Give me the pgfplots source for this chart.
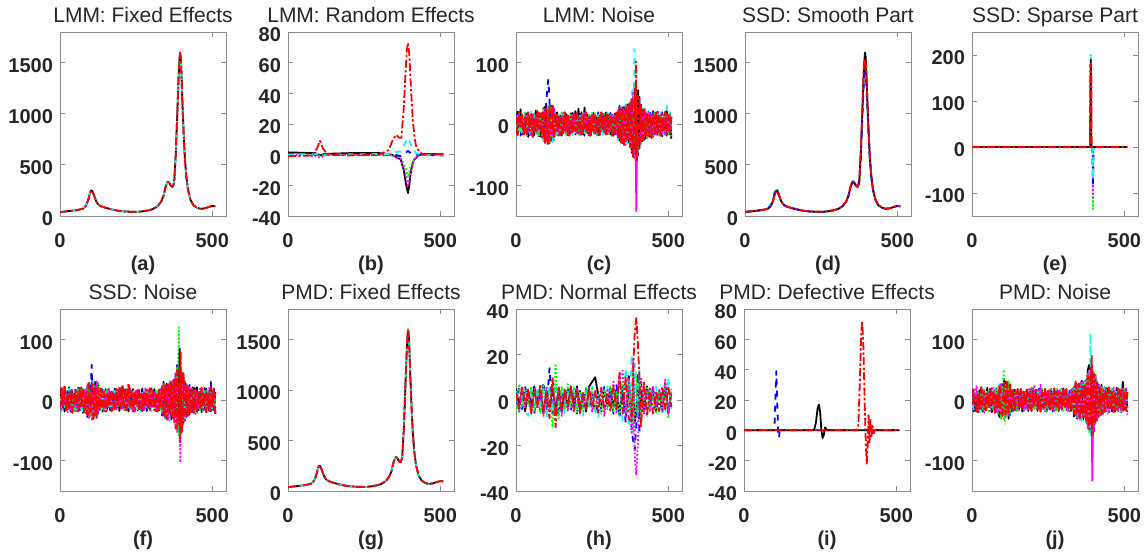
\documentclass[border=0pt]{standalone}
\usepackage{pgfplots}
\pgfplotsset{compat=1.18}
\usepackage{pgfplotstable}
\usepackage{fontspec}
\setmainfont{Liberation Sans}
\definecolor{txt}{HTML}{262626}
\definecolor{axc}{HTML}{8C8C8C}
\definecolor{mgreen}{rgb}{0,1,0}
\definecolor{mcyan}{rgb}{0,1,1}
\definecolor{mmag}{rgb}{1,0,1}

\pgfplotstableread{
x a r bl cy
0 38 40 42 40
20 45 46 44 45
40 52 52 53 52
60 60 61 60 62
75 72 73 72 74
85 100 98 102 105
92 150 145 155 165
98 220 215 225 250
102 250 245 255 280
106 245 240 250 270
112 200 198 205 210
118 150 150 152 155
125 115 116 115 118
135 95 96 94 95
150 80 80 81 80
170 65 66 64 65
190 52 53 52 52
210 45 46 45 45
230 42 44 42 42
250 40 42 41 40
270 45 46 45 45
290 55 56 55 55
305 68 70 68 68
320 95 97 95 95
332 140 142 140 140
340 200 205 200 205
347 290 300 290 300
353 335 340 330 345
358 330 335 325 335
364 295 300 295 300
370 285 280 290 285
375 330 320 340 330
380 600 620 580 600
385 1000 1050 950 1000
390 1400 1480 1300 1400
392 1520 1530 1380 1480
394 1600 1500 1400 1520
396 1560 1520 1380 1500
398 1450 1400 1300 1400
402 1100 1120 1050 1100
406 800 810 780 800
410 560 570 550 560
415 380 385 375 380
420 260 265 258 260
428 160 162 160 160
438 105 106 105 105
450 80 80 80 80
462 70 71 70 70
475 75 76 75 75
490 90 91 90 90
500 98 99 98 98
510 95 96 95 95
}\S

\pgfplotstableread{
x a b c d e f
0 12 -15 18 -8 6 -16
5 -18 20 -6 14 -19 9
10 20 -9 5 -18 13 15
15 -4 24 -19 10 -12 -6
20 15 -17 12 -20 17 11
25 -20 8 -15 16 -7 -18
30 9 -13 21 -5 19 10
35 -16 17 -9 -19 -14 16
40 19 -21 14 11 8 -13
45 -11 10 -18 -15 -17 7
50 16 -6 11 20 13 -20
55 -21 14 -13 -10 -8 17
60 10 -18 20 16 18 -9
65 -15 22 -7 -20 -13 13
70 21 -11 15 8 10 -16
75 -8 16 -21 -13 -19 19
80 17 -20 10 19 14 -10
85 -22 13 -14 -16 -21 20
90 26 -24 22 -28 24 -17
95 -30 28 -26 20 -32 25
100 24 -20 -26 -24 28 -28
105 -34 26 28 32 -25 21
110 28 -31 -24 -20 33 -30
115 -27 22 30 27 -29 24
120 32 -27 -23 -31 20 -20
125 -24 20 28 25 -26 27
130 18 -16 -14 -19 15 -12
135 -12 19 16 11 -18 15
140 15 -11 -19 17 10 -17
145 -18 14 10 -12 -15 11
150 11 -19 15 18 19 -14
155 -17 12 -11 -15 -8 18
160 19 -10 18 8 14 -10
165 -10 16 -17 -19 -17 14
170 14 -18 12 14 11 -18
175 -19 11 -8 -11 -19 8
180 12 -15 19 17 15 -15
185 -15 18 -14 -18 -10 17
190 17 -8 11 12 18 -11
195 -11 21 -18 -14 -12 12
200 18 -14 14 19 8 -17
205 -14 25 -10 -8 -17 10
210 10 -12 17 15 14 -19
215 -18 19 -15 -18 -11 15
220 15 -17 8 11 19 -8
225 -8 27 -19 -15 -14 18
230 19 -11 12 17 10 -14
235 -17 15 -12 -10 -18 11
240 11 -19 18 14 15 -18
245 -19 12 -8 -19 -8 14
250 14 -8 15 10 18 -10
255 -12 18 -17 -14 -15 17
260 17 -15 11 18 11 -15
265 -15 10 -14 -11 -19 8
270 12 -18 19 15 14 -17
275 -18 14 -10 -17 -10 12
280 19 -11 14 8 17 -11
285 -10 17 -18 -18 -12 18
290 15 -14 12 12 19 -14
295 -17 19 -15 -14 -11 10
300 18 -10 17 19 12 -18
305 -12 15 -11 -10 -17 15
310 14 -17 18 17 10 -12
315 -19 11 -14 -15 -18 17
320 11 -19 8 14 15 -10
325 -15 17 -17 -18 -11 14
330 20 -12 14 11 19 -17
335 -24 22 -23 -27 -20 24
340 27 -27 30 22 26 -22
345 -30 24 -20 -28 -31 27
350 23 -31 27 26 22 -30
355 -34 28 -32 -22 -27 23
360 28 -24 22 31 32 -34
365 -26 32 -28 -32 -23 30
370 32 -30 26 24 28 -26
375 -38 35 -34 -31 -35 32
380 43 -47 40 50 -40 -44
385 -54 50 -48 58 46 53
390 58 -40 53 -56 -50 -58
395 -50 56 -58 48 54 46
400 46 -52 43 -50 -46 -52
405 -40 44 -37 40 37 42
410 33 -33 29 -34 -32 -29
415 -27 24 -28 26 25 23
420 24 -26 21 -23 -21 -25
425 -21 20 -24 25 19 21
430 19 -23 16 -17 -24 -19
435 -20 17 -19 21 16 20
440 16 -21 20 -16 -20 -15
445 -23 15 -13 19 17 16
450 17 -19 21 -20 -13 -21
455 -15 16 -17 15 20 13
460 19 -12 13 -19 -16 -17
465 -16 20 -20 16 11 19
470 13 -16 11 -13 -19 -11
475 -19 13 -15 20 15 15
480 16 -20 19 -17 -12 -16
485 -13 12 -12 13 17 12
490 20 -17 16 -20 -15 -19
495 -17 21 -19 30 13 16
500 15 -13 12 -16 -17 -12
505 -16 19 -17 19 16 15
510 12 -24 13 -13 -20 -13
}\N

\pgfplotstableread{
x a b c d e f
0 3 5 -2 4 -6 2
10 -4 -2 5 -6 7 -5
20 6 3 -4 2 -3 6
30 -2 -5 6 -4 5 -3
40 5 4 -3 -7 -2 4
50 -6 -3 4 5 6 -6
60 4 6 -6 -3 -5 5
70 -3 -2 3 6 4 -4
80 7 3 -5 -4 -6 3
90 -5 -6 8 5 7 -7
100 3 4 -4 -8 -3 6
110 -8 -3 14 6 5 -4
120 10 5 -6 -5 -12 8
130 -12 -4 5 7 16 -6
140 6 3 -7 -3 -8 5
150 -4 -5 4 5 6 -7
160 5 4 -3 -6 -4 4
170 -3 -3 6 3 7 -5
180 6 5 -5 -4 -3 6
190 -5 -2 3 6 5 -3
200 4 6 -6 -5 -6 5
210 -6 -4 4 3 4 -6
220 3 3 -3 -7 -5 3
230 -4 -5 5 4 6 -4
240 5 6 -4 -3 -3 6
250 -3 8 3 6 5 -5
260 4 10 -6 -5 -4 4
270 -6 2 4 -8 3 -3
280 5 -3 -5 4 -6 6
290 -4 4 6 -5 5 -7
300 3 -2 -3 6 -4 5
310 -5 5 4 -4 6 -3
320 6 -3 -6 5 -5 8
330 -4 4 7 -6 4 -6
340 12 -5 -8 10 -7 11
350 -6 3 6 -9 8 13
360 10 -6 -10 14 -6 -8
370 -8 5 12 -12 9 10
380 -10 -8 -14 20 -10 -15
385 15 8 -18 -15 12 18
390 30 -10 -22 16 -14 -25
395 36 -5 -10 8 10 -33
400 25 6 12 -10 -8 -20
405 10 -6 -15 14 9 5
410 -12 4 8 -8 -6 10
420 8 -5 -6 6 -5 -6
430 -7 6 5 -7 6 4
440 5 -3 -4 5 -5 -5
450 -6 4 6 -4 3 6
460 4 -5 -3 6 -6 -3
470 -5 3 5 -5 4 5
480 6 -4 -6 4 -6 -4
490 -4 5 8 -6 7 9
500 6 -6 -5 10 -8 -6
510 -3 3 4 -4 5 4
}\H

\pgfplotsset{
 panel/.style={
  scale only axis, width=83pt, anchor=south west,
  xmin=0, xmax=545, xtick={0,500},
  axis line style={axc}, tick style={axc, thin}, tick align=inside, major tick length=2.5pt,
  /pgf/number format/assume math mode=true,
  /pgf/number format/1000 sep={},
  ticklabel style={font=\fontsize{10}{12}\selectfont\bfseries, text=txt},
  xticklabel style={anchor=base, yshift=-15.5pt},
  yticklabel style={yshift=-1.5pt},
  title style={at={(axis description cs:0.5,1)}, anchor=base, yshift=-1.3pt, font=\fontsize{10.5}{12}\selectfont, text=txt},
  xlabel style={at={(axis description cs:0.5,0)}, anchor=base, yshift=-27pt, font=\fontsize{10}{12}\selectfont\bfseries, text=txt},
  every axis plot/.append style={line width=0.9pt, line join=round},
 },
 r1/.style={height=92pt},
 r2/.style={height=91pt},
 kk/.style={black, solid},
 bb/.style={blue, dashed},
 cc/.style={mcyan, dashed},
 gg/.style={mgreen, densely dotted},
 mm/.style={mmag, densely dotted},
 rr/.style={red, dash pattern=on 4pt off 1.2pt on 1.2pt off 1.2pt},
}

\begin{document}
\begin{tikzpicture}
\useasboundingbox (0,0) rectangle (572pt,277pt);

% (a)
\begin{axis}[panel, r1, at={(30pt,169pt)}, ymin=0, ymax=1800, ytick={0,500,1000,1500}, title={LMM: Fixed Effects}, xlabel={(a)}]
\addplot[kk] table[x=x,y=a]{\S};
\addplot[cc] table[x=x,y=a]{\S};
\addplot[rr] table[x=x,y=a]{\S};
\end{axis}

% (b)
\begin{axis}[panel, r1, at={(144pt,169pt)}, ymin=-40, ymax=80, ytick={-40,-20,0,20,40,60,80}, title={LMM: Random Effects}, xlabel={(b)}]
\addplot[kk] coordinates {(0,1.5)(90,1)(105,-0.5)(120,0.5)(200,1)(300,1)(340,0)(355,-1.5)(370,-3)(380,-10)(388,-20)(394,-25)(398,-20)(404,-10)(412,-4)(425,-1)(440,0.5)(510,0.5)};
\addplot[gg] coordinates {(0,0.5)(95,0)(105,-1)(120,0)(350,-0.5)(370,-2)(385,-8)(394,-15)(402,-8)(420,-1)(440,0)(510,0)};
\addplot[mm] coordinates {(0,0)(95,-1)(105,-2)(115,-1)(130,0)(340,0)(355,-2)(370,-3)(385,-12)(394,-21)(402,-12)(415,-3)(430,0)(510,0)};
\addplot[bb] coordinates {(0,0.5)(95,0)(105,-1)(120,0)(350,0)(370,-1)(385,1)(394,2.5)(402,1)(420,0)(510,-0.5)};
\addplot[cc] coordinates {(0,0)(95,0.5)(105,1)(120,0)(340,0.5)(355,2)(370,2)(380,6)(394,11)(405,6)(420,1)(440,0)(510,0)};
\addplot[rr] coordinates {(0,-1)(80,-0.5)(95,4)(105,9)(115,4)(130,0)(200,-0.5)(300,0)(330,3)(345,10)(355,13)(365,11)(372,11)(380,30)(385,50)(390,68)(394,73)(398,66)(402,50)(406,35)(410,22)(415,12)(420,6)(430,2)(445,0)(510,0.5)};
\end{axis}

% (c)
\begin{axis}[panel, r1, at={(258pt,169pt)}, ymin=-150, ymax=150, ytick={-100,0,100}, title={LMM: Noise}, xlabel={(c)}]
\addplot[kk] table[x=x,y=b]{\N};
\addplot[bb] table[x=x,y=c]{\N};
\addplot[cc] table[x=x,y=d]{\N};
\addplot[gg] table[x=x,y=e]{\N};
\addplot[mm] table[x=x,y=f]{\N};
\addplot[bb] coordinates {(95,5)(100,40)(103,60)(106,72)(109,50)(112,10)(115,-15)};
\addplot[kk] coordinates {(398,-10)(401,55)(404,-20)};
\addplot[cc] coordinates {(386,-20)(389,122)(392,-30)};
\addplot[mm, solid] coordinates {(392,10)(395,-142)(398,0)};
\addplot[rr, line width=1.1pt] table[x=x,y=a]{\N};
\addplot[rr] coordinates {(391,-40)(394,102)(397,-60)};
\end{axis}

% (d)
\begin{axis}[panel, r1, at={(372.5pt,169pt)}, ymin=0, ymax=1800, ytick={0,500,1000,1500}, title={SSD: Smooth Part}, xlabel={(d)}]
\addplot[cc] table[x=x,y=cy]{\S};
\addplot[kk] table[x=x,y=a]{\S};
\addplot[bb] table[x=x,y=bl]{\S};
\addplot[rr] table[x=x,y=r]{\S};
\end{axis}

% (e)
\begin{axis}[panel, r1, at={(486pt,169pt)}, ymin=-150, ymax=250, ytick={-100,0,100,200}, title={SSD: Sparse Part}, xlabel={(e)}]
\addplot[gg] coordinates {(0,0)(389,0)(390,200)(391,0)(396,0)(397,-135)(398,0)(510,0)};
\addplot[mm] coordinates {(0,0)(389,0)(390,175)(391,0)(396,0)(397,-110)(398,0)(510,0)};
\addplot[bb] coordinates {(0,0)(395,0)(397,-80)(399,0)(510,0)};
\addplot[cc] coordinates {(0,0)(389,0)(390,195)(391,0)(395,0)(397,-70)(399,0)(510,0)};
\addplot[kk] coordinates {(0,0)(388,0)(390,190)(392,0)(510,0)};
\addplot[rr, line width=1.1pt] coordinates {(0,0)(388,0)(389,180)(391,180)(392,0)(510,0)};
\end{axis}

% (f)
\begin{axis}[panel, r2, at={(30pt,31.5pt)}, ymin=-150, ymax=150, ytick={-100,0,100}, title={SSD: Noise}, xlabel={(f)}]
\addplot[kk] table[x=x,y=c]{\N};
\addplot[bb] table[x=x,y=d]{\N};
\addplot[cc] table[x=x,y=e]{\N};
\addplot[gg] table[x=x,y=f]{\N};
\addplot[mm] table[x=x,y=a]{\N};
\addplot[bb] coordinates {(100,-5)(104,58)(108,-10)};
\addplot[gg] coordinates {(386,-20)(390,120)(394,-40)};
\addplot[kk] coordinates {(390,-30)(393,85)(396,-50)};
\addplot[mm] coordinates {(392,20)(395,-103)(398,10)};
\addplot[rr, line width=1.1pt] table[x=x,y=b]{\N};
\addplot[rr] coordinates {(393,-70)(396,80)(399,-55)};
\end{axis}

% (g)
\begin{axis}[panel, r2, at={(144pt,31.5pt)}, ymin=0, ymax=1800, ytick={0,500,1000,1500}, title={PMD: Fixed Effects}, xlabel={(g)}]
\addplot[kk] table[x=x,y=a]{\S};
\addplot[cc] table[x=x,y=a]{\S};
\addplot[rr] table[x=x,y=a]{\S};
\end{axis}

% (h)
\begin{axis}[panel, r2, at={(258pt,31.5pt)}, ymin=-40, ymax=40, ytick={-40,-20,0,20,40}, title={PMD: Normal Effects}, xlabel={(h)}]
\addplot[kk] table[x=x,y=b]{\H};
\addplot[bb] table[x=x,y=c]{\H};
\addplot[cc] table[x=x,y=d]{\H};
\addplot[gg] table[x=x,y=e]{\H};
\addplot[mm] table[x=x,y=f]{\H};
\addplot[rr] table[x=x,y=a]{\H};
\end{axis}

% (i)
\begin{axis}[panel, r2, at={(372pt,31.5pt)}, ymin=-40, ymax=80, ytick={-40,-20,0,20,40,60,80}, title={PMD: Defective Effects}, xlabel={(i)}]
\addplot[cc] coordinates {(0,0)(510,0)};
\addplot[blue, dashed] coordinates {(0,0)(95,0)(100,2)(103,20)(106,39)(109,20)(112,-2)(115,-5)(118,2)(122,0)(510,0)};
\addplot[kk] coordinates {(0,0)(230,0)(236,5)(242,15)(246,17)(250,12)(254,0)(258,-5)(262,-3)(266,2)(270,1)(275,0)(510,0)};
\addplot[rr] coordinates {(0,0)(370,0)(375,2)(380,30)(385,65)(388,72)(392,55)(396,20)(400,-10)(403,-22)(406,-10)(409,10)(412,-8)(415,8)(418,-5)(422,3)(426,-2)(430,0)(510,0)};
\end{axis}

% (j)
\begin{axis}[panel, r2, at={(486pt,31.5pt)}, ymin=-150, ymax=150, ytick={-100,0,100}, title={PMD: Noise}, xlabel={(j)}]
\addplot[kk] table[x=x,y=d]{\N};
\addplot[bb] table[x=x,y=e]{\N};
\addplot[cc] table[x=x,y=f]{\N};
\addplot[gg] table[x=x,y=a]{\N};
\addplot[mm] table[x=x,y=b]{\N};
\addplot[gg] coordinates {(100,-5)(104,50)(108,-40)};
\addplot[cc] coordinates {(386,-20)(389,110)(392,-50)};
\addplot[gg] coordinates {(393,10)(396,-70)(399,0)};
\addplot[mm, solid] coordinates {(392,20)(395,-133)(398,0)};
\addplot[rr, line width=1.1pt] table[x=x,y=c]{\N};
\addplot[rr] coordinates {(390,-40)(393,75)(396,-60)};
\end{axis}
\end{tikzpicture}
\end{document}
